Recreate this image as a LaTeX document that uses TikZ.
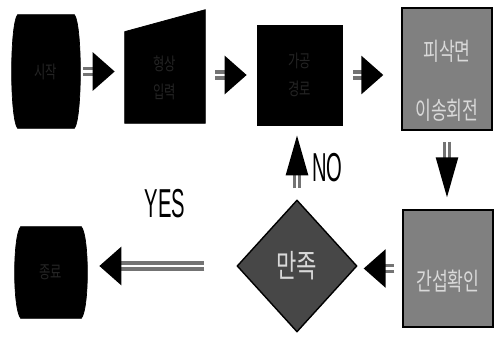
\documentclass[tikz,border=0pt]{standalone}
\usepackage{fontspec}
\newfontfamily\kr[FakeStretch=0.7]{Noto Sans CJK KR}
\newfontfamily\cond[FakeStretch=0.5]{Liberation Sans}
\usetikzlibrary{positioning, arrows.meta, shapes.geometric, calc, backgrounds}

\tikzset{
	dark/.style={fill=black, draw=black, inner sep=0pt, text=white!14!black, font=\kr\fontsize{10}{16}\selectfont, align=center},
	grey/.style={fill=black!50, draw=black, line width=0.8pt, inner sep=0pt, font=\kr\fontsize{14}{16}\selectfont, text=white!85!black, align=center},
	harrow/.style={draw=black!55, line width=1.8pt, double=white, double distance=1.6pt, -{Triangle[length=0.44cm, width=0.76cm, color=black, fill=black]}},
	varrow/.style={draw=black!55, line width=1.5pt, double=white, double distance=1.4pt, -{Triangle[length=0.8cm, width=0.44cm, color=black, fill=black]}},
	lbl/.style={font=\cond\fontsize{23}{24}\selectfont, inner sep=0pt}
}

\begin{document}
\begin{tikzpicture}[x=0.02cm, y=-0.02cm]
	\useasboundingbox (0,0) rectangle (495,338);

	% Bloques
	\node[dark, fill=none, draw=none, minimum width=1.12cm, minimum height=2.26cm] (start) at (46,71.5) {시작};
	\node[dark, fill=none, draw=none, minimum width=1.6cm, minimum height=1.82cm] (input) at (165,77.5) {형상\\입력};
	\node[dark, minimum width=1.7cm, minimum height=2cm] (proc) at (299.5,75) {가공\\경로};
	\node[grey, minimum width=1.8cm, minimum height=2.44cm] (param) at (447,69) {};
	\node[grey, minimum width=1.8cm, minimum height=2.34cm] (check) at (448,268.5) {};
	\node[grey, shape=diamond, fill=black!72, minimum width=2.4cm, minimum height=2.64cm,
		font=\kr\fontsize{18}{20}\selectfont] (ok) at (297,266) {만족};
	\node[dark, fill=none, draw=none, minimum width=1.2cm, minimum height=1.82cm] (end) at (51,272.5) {종료};

	% Textos de las cajas grises
	\node[grey, draw=none, fill=none] (ptext) at (447,81) {피삭면\\[0.62cm]이송회전};
	\node[grey, draw=none, fill=none] (ctext) at (448,281) {간섭확인};

	% Formas detras del texto
	\begin{scope}[on background layer]
		\foreach \t in {start,end} {
			\filldraw (\t.north west) -- (\t.north east)
				.. controls ($(\t.north east)+(8,10)$) and ($(\t.south east)+(8,-10)$) .. (\t.south east)
				-- (\t.south west)
				.. controls ($(\t.south west)+(-8,-10)$) and ($(\t.north west)+(-8,10)$) .. cycle;
		}
		\filldraw (input.south west) -- (input.north west) -- ($(input.north east)+(0,-22)$) -- (input.south east) -- cycle;
	\end{scope}

	% Flechas
	\draw[harrow, shorten <=0.18cm, shorten >=0.2cm] (start.east) -- (start.east -| input.west);
	\draw[harrow, shorten <=0.2cm, shorten >=0.2cm] (input.east |- proc.west) -- (proc.west);
	\draw[harrow, shorten <=0.22cm, shorten >=0.36cm] (proc.east) -- (proc.east -| param.west);
	\draw[varrow, shorten <=0.22cm, shorten >=0.24cm] (param.south) -- (param.south |- check.north);
	\draw[harrow, shorten <=0.16cm, shorten >=0.12cm] (check.west) -- (check.west -| ok.east);
	\draw[varrow, shorten <=0.22cm, shorten >=0.2cm] (ok.north) -- (ok.north |- proc.south);
	\draw[harrow, shorten <=0.64cm, shorten >=0.36cm] (ok.west) -- (ok.west -| end.east);

	\node[lbl, anchor=west] (no) at (312,168) {NO};
	\node[lbl] (yes) at (165,204) {YES};
\end{tikzpicture}
\end{document}
